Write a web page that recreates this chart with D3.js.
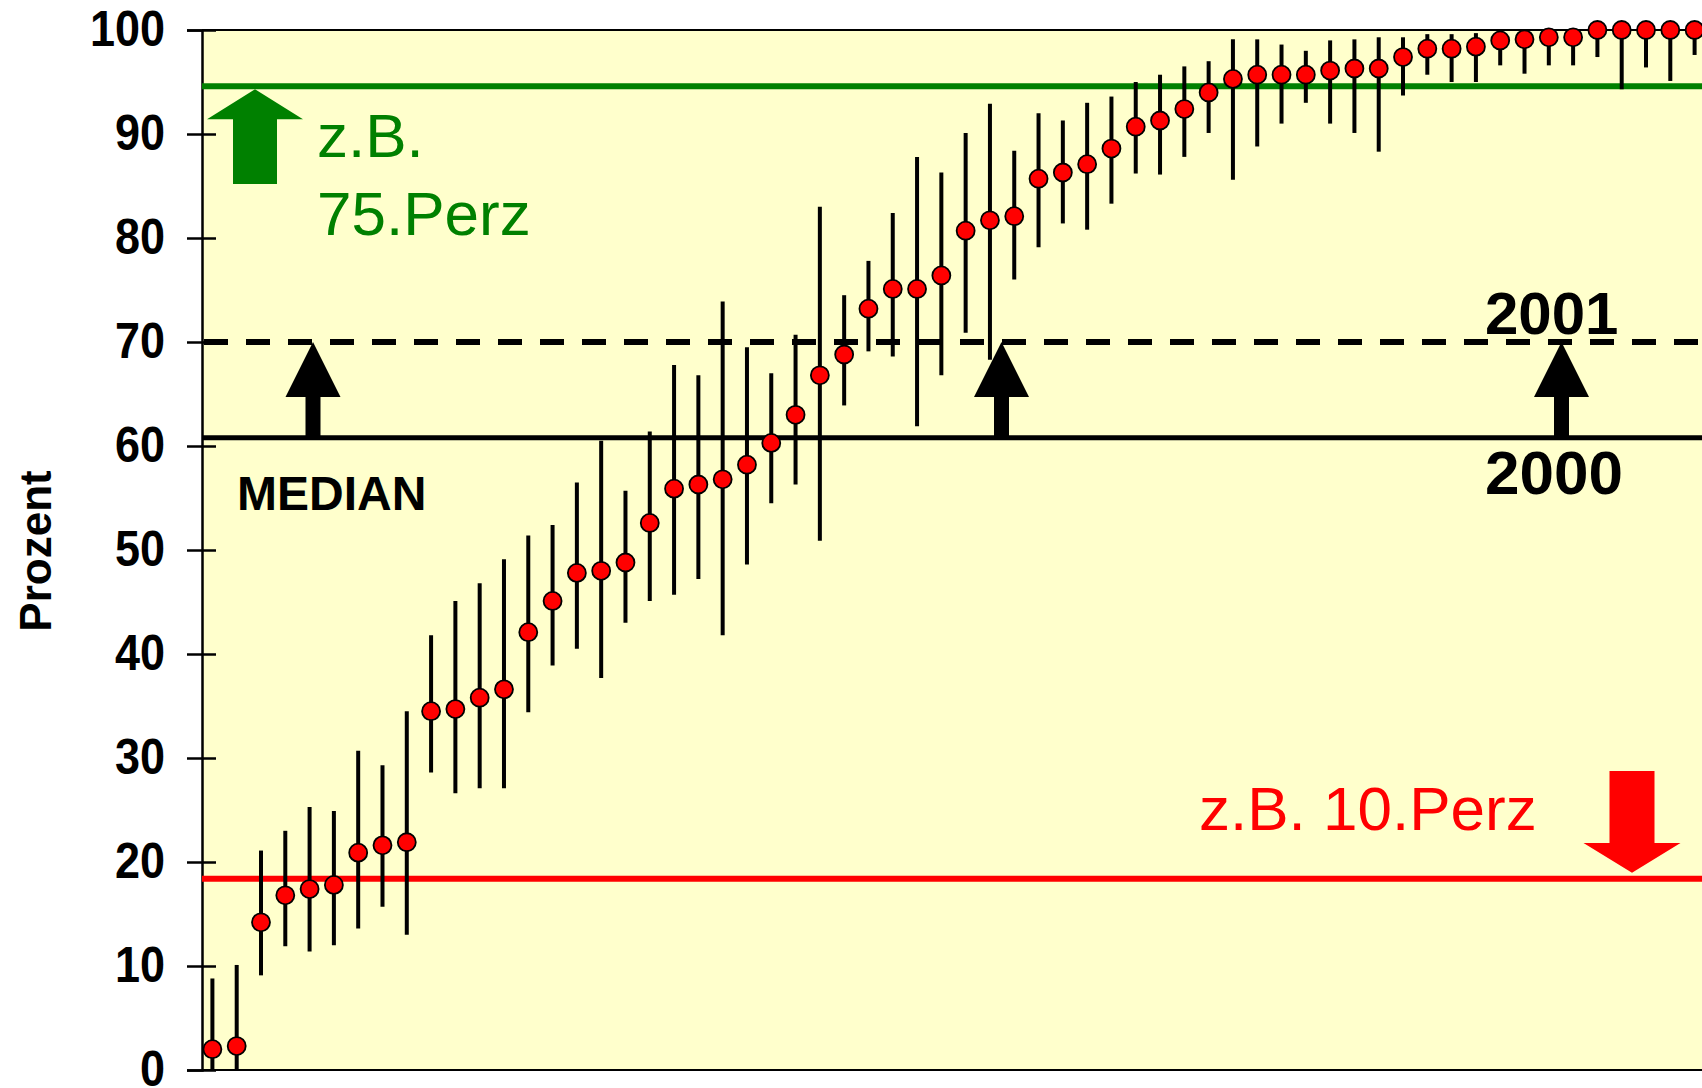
<!DOCTYPE html>
<html>
<head>
<meta charset="utf-8">
<script src="https://cdn.jsdelivr.net/npm/d3@7"></script>
<style>
  body { margin: 0; background: #fff; }
  text { font-family: "Liberation Sans", Arial, sans-serif; }
</style>
</head>
<body>
<svg id="chart" width="1702" height="1088"></svg>
<script>
// medians per unit, sorted, with upper / lower whisker ends (Prozent)
var medians = [2.0, 2.3, 14.2, 16.8, 17.4, 17.8, 20.9, 21.6, 21.9, 34.5,
  34.7, 35.8, 36.6, 42.1, 45.1, 47.8, 48.0, 48.8, 52.6, 55.9,
  56.3, 56.8, 58.2, 60.3, 63.0, 66.8, 68.8, 73.2, 75.1, 75.1,
  76.4, 80.7, 81.7, 82.1, 85.7, 86.3, 87.1, 88.6, 90.7, 91.3,
  92.4, 94.0, 95.3, 95.7, 95.7, 95.7, 96.1, 96.3, 96.3, 97.4,
  98.2, 98.2, 98.4, 99.0, 99.1, 99.3, 99.3, 100, 100, 100,
  100, 100];
var upper = [8.8, 10.1, 21.1, 23.0, 25.3, 24.9, 30.7, 29.3, 34.5, 41.8,
  45.1, 46.8, 49.1, 51.4, 52.4, 56.5, 60.5, 55.7, 61.4, 67.8,
  66.8, 73.9, 69.5, 67.0, 70.7, 83.0, 74.5, 77.8, 82.4, 87.8,
  86.3, 90.1, 92.9, 88.4, 92.0, 91.3, 93.0, 93.6, 95.0, 95.7,
  96.5, 97.0, 99.1, 99.1, 98.6, 98.0, 99.0, 99.1, 99.3, 99.3,
  99.6, 99.6, 99.7, 100, 99.8, 100, 100, 100, 100, 100,
  100, 100];
var lower = [0, 0, 9.1, 11.9, 11.4, 12.0, 13.6, 15.7, 13.0, 28.6,
  26.6, 27.1, 27.1, 34.4, 38.9, 40.5, 37.7, 43.0, 45.1, 45.7,
  47.2, 41.8, 48.6, 54.5, 56.3, 50.9, 63.9, 69.1, 68.6, 61.9,
  66.8, 70.9, 68.3, 76.0, 79.1, 81.4, 80.8, 83.3, 86.2, 86.1,
  87.8, 90.1, 85.6, 88.8, 91.0, 93.0, 91.0, 90.1, 88.3, 93.7,
  95.7, 95.0, 95.0, 96.6, 95.8, 96.6, 96.6, 97.4, 94.3, 96.4,
  95.1, 97.6];
var yTicks = [0, 10, 20, 30, 40, 50, 60, 70, 80, 90, 100];

// reference lines
var perz75 = 94.6, median2001 = 70, median2000 = 60.8, perz10 = 18.4;

var svg = d3.select('#chart');
var plotLeft = 202, plotTop = 30, plotRight = 1702, plotBottom = 1070;

var x = d3.scaleLinear().domain([0, medians.length - 1]).range([212.4, 1694.6]);
var y = d3.scaleLinear().domain([0, 100]).range([plotBottom, plotTop]);

// plot area
svg.append('rect')
  .attr('x', plotLeft).attr('y', plotTop)
  .attr('width', plotRight - plotLeft).attr('height', plotBottom - plotTop)
  .attr('fill', '#ffffcc');

svg.append('line')
  .attr('x1', plotLeft).attr('x2', plotRight).attr('y1', plotTop).attr('y2', plotTop)
  .attr('stroke', '#000').attr('stroke-width', 2);
svg.append('line')
  .attr('x1', plotLeft).attr('x2', plotRight).attr('y1', plotBottom).attr('y2', plotBottom)
  .attr('stroke', '#000').attr('stroke-width', 2);

// y axis, ticks crossing the axis line
var yAxis = svg.append('g')
  .attr('transform', 'translate(' + plotLeft + ',0)')
  .call(d3.axisLeft(y).tickValues(yTicks).tickSize(15).tickPadding(22).tickFormat(d3.format('d')));
yAxis.select('.domain').attr('stroke-width', 2.5);
yAxis.selectAll('.tick line').attr('x1', 14).attr('stroke-width', 2.5);
yAxis.selectAll('.tick text')
  .attr('font-size', 45).attr('font-weight', 'bold')
  .attr('font-family', '"Liberation Sans", Arial, sans-serif')
  .attr('fill', '#000')
  .attr('transform', 'scale(1,1.1)');

svg.append('text')
  .attr('transform', 'translate(51,551) rotate(-90)')
  .attr('text-anchor', 'middle')
  .attr('font-size', 44).attr('font-weight', 'bold')
  .text('Prozent');

// horizontal reference lines
svg.append('line')
  .attr('x1', plotLeft).attr('x2', plotRight).attr('y1', y(perz75)).attr('y2', y(perz75))
  .attr('stroke', '#008000').attr('stroke-width', 6);
svg.append('line')
  .attr('x1', plotLeft).attr('x2', plotRight).attr('y1', y(perz10)).attr('y2', y(perz10))
  .attr('stroke', '#ff0000').attr('stroke-width', 6);
svg.append('line')
  .attr('x1', plotLeft).attr('x2', plotRight).attr('y1', y(median2000)).attr('y2', y(median2000))
  .attr('stroke', '#000').attr('stroke-width', 5);
svg.append('line')
  .attr('x1', plotLeft + 2).attr('x2', plotRight).attr('y1', y(median2001)).attr('y2', y(median2001))
  .attr('stroke', '#000').attr('stroke-width', 6)
  .attr('stroke-dasharray', '24,18');

// whiskers
svg.append('g').selectAll('line')
  .data(medians)
  .enter().append('line')
  .attr('x1', function(d, i) { return x(i); })
  .attr('x2', function(d, i) { return x(i); })
  .attr('y1', function(d, i) { return y(upper[i]); })
  .attr('y2', function(d, i) { return y(lower[i]); })
  .attr('stroke', '#000').attr('stroke-width', 4);

// black up arrows (2000 -> 2001)
function upArrow(cx, tipY, baseY, headH, headW, shaftW, color) {
  var hb = tipY + headH;
  var pts = [[cx, tipY], [cx + headW / 2, hb], [cx + shaftW / 2, hb], [cx + shaftW / 2, baseY],
    [cx - shaftW / 2, baseY], [cx - shaftW / 2, hb], [cx - headW / 2, hb]];
  svg.append('polygon').attr('points', pts.join(' ')).attr('fill', color);
}
[313, 1001.5, 1561.5].forEach(function(cx) {
  upArrow(cx, y(median2001), y(median2000), 55, 55, 15, '#000');
});
// green up arrow
upArrow(255, y(perz75) + 3, 184, 30, 96, 44, '#008000');
// red down arrow
(function() {
  var cx = 1632, tip = y(perz10) - 6, hb = 843, topY = 771;
  var pts = [[cx, tip], [cx + 48.5, hb], [cx + 22.5, hb], [cx + 22.5, topY],
    [cx - 22.5, topY], [cx - 22.5, hb], [cx - 48.5, hb]];
  svg.append('polygon').attr('points', pts.join(' ')).attr('fill', '#ff0000');
})();

// points
svg.append('g').selectAll('circle')
  .data(medians)
  .enter().append('circle')
  .attr('cx', function(d, i) { return x(i); })
  .attr('cy', function(d) { return y(d); })
  .attr('r', 9)
  .attr('fill', '#ff0000')
  .attr('stroke', '#000').attr('stroke-width', 1.8);

// labels
svg.append('text').attr('x', 317).attr('y', 157)
  .attr('font-size', 62).attr('fill', '#008000').text('z.B.');
svg.append('text').attr('x', 317).attr('y', 235)
  .attr('font-size', 62).attr('fill', '#008000').text('75.Perz');
svg.append('text').attr('x', 1199).attr('y', 830)
  .attr('font-size', 62).attr('fill', '#ff0000').text('z.B. 10.Perz');
svg.append('text').attr('x', 237).attr('y', 510)
  .attr('font-size', 48).attr('font-weight', 'bold').text('MEDIAN');
svg.append('text').attr('x', 1485).attr('y', 334)
  .attr('font-size', 60).attr('font-weight', 'bold').text('2001');
svg.append('text').attr('x', 1485).attr('y', 494)
  .attr('font-size', 62).attr('font-weight', 'bold').text('2000');
</script>
</body>
</html>
